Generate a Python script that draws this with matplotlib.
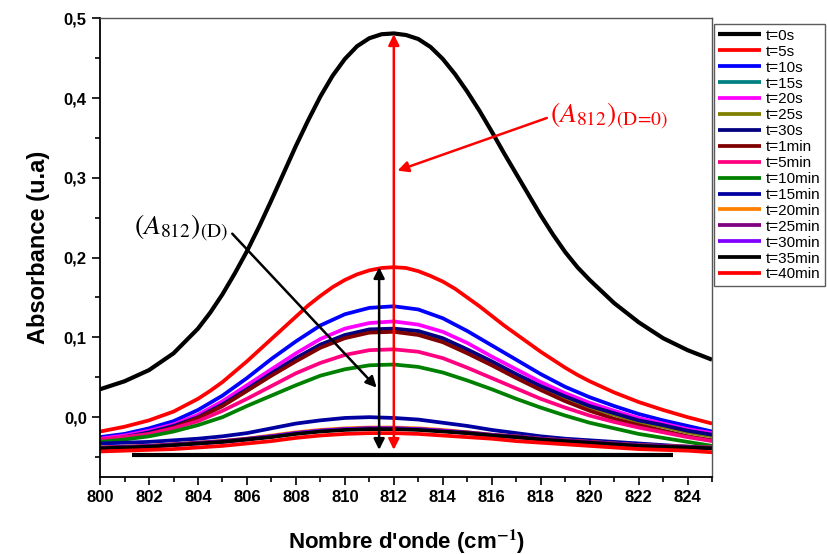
import matplotlib
matplotlib.use("Agg")
import matplotlib.pyplot as plt
from matplotlib.ticker import MultipleLocator, FuncFormatter

plt.rcParams['font.family'] = ['Liberation Sans', 'DejaVu Sans']
plt.rcParams['mathtext.fontset'] = 'stix'

# wavenumber grids (cm-1): finer sampling around the band for the two tallest spectra
wavenumber = [800, 801, 802, 803, 804, 805, 806, 807, 808, 809, 810, 811, 812,
              813, 814, 815, 816, 817, 818, 819, 820, 821, 822, 823, 824, 825]
wavenumber_fine = [800, 801, 802, 803, 804,
                   804.5, 805, 805.5, 806, 806.5, 807, 807.5, 808, 808.5, 809, 809.5, 810,
                   810.5, 811, 811.5, 812, 812.5, 813, 813.5, 814, 814.5, 815, 815.5, 816,
                   816.5, 817, 817.5, 818, 818.5, 819, 819.5,
                   820, 821, 822, 823, 824, 825]

labels = ["t=0s", "t=5s", "t=10s", "t=15s", "t=20s", "t=25s", "t=30s", "t=1min",
          "t=5min", "t=10min", "t=15min", "t=20min", "t=25min", "t=30min",
          "t=35min", "t=40min"]
colors = ["#000000", "#FF0000", "#0000FF", "#008080", "#FF00FF", "#808000",
          "#000080", "#800000", "#FF0080", "#008000", "#0000A0", "#FF8000",
          "#800080", "#8000FF", "#000000", "#FF0000"]

t_0s = [0.035, 0.045, 0.059, 0.080, 0.111,
        0.131, 0.154, 0.180, 0.208, 0.239, 0.272, 0.306, 0.340, 0.372, 0.402, 0.428, 0.449,
        0.465, 0.475, 0.480, 0.481, 0.479, 0.474, 0.464, 0.449, 0.430, 0.408, 0.384, 0.358,
        0.331, 0.305, 0.279, 0.253, 0.229, 0.207, 0.188,
        0.172, 0.143, 0.119, 0.099, 0.084, 0.072]
t_5s = [-0.018, -0.012, -0.004, 0.007, 0.023,
        0.033, 0.044, 0.057, 0.070, 0.084, 0.098, 0.112, 0.126, 0.140, 0.152, 0.163, 0.172,
        0.179, 0.184, 0.187, 0.188, 0.187, 0.183, 0.177, 0.170, 0.161, 0.150, 0.139, 0.127,
        0.115, 0.104, 0.093, 0.082, 0.072, 0.062, 0.053,
        0.045, 0.031, 0.019, 0.009, 0.000, -0.008]
t_10s = [-0.025, -0.021, -0.014, -0.005, 0.009, 0.027, 0.049, 0.073, 0.095, 0.115, 0.129, 0.137, 0.139,
         0.135, 0.124, 0.108, 0.090, 0.072, 0.054, 0.038, 0.025, 0.014, 0.004, -0.004, -0.011, -0.018]
t_15s = [-0.030, -0.026, -0.020, -0.012, -0.001, 0.015, 0.034, 0.054, 0.073, 0.090, 0.102, 0.109, 0.110,
         0.107, 0.098, 0.084, 0.069, 0.053, 0.038, 0.025, 0.013, 0.004, -0.005, -0.011, -0.018, -0.023]
t_20s = [-0.027, -0.023, -0.017, -0.009, 0.003, 0.020, 0.040, 0.060, 0.080, 0.098, 0.111, 0.118, 0.120,
         0.116, 0.107, 0.093, 0.076, 0.060, 0.044, 0.030, 0.018, 0.008, -0.001, -0.008, -0.015, -0.020]
t_25s = [-0.031, -0.027, -0.021, -0.013, -0.002, 0.014, 0.033, 0.053, 0.072, 0.089, 0.101, 0.108, 0.109,
         0.106, 0.097, 0.083, 0.068, 0.052, 0.037, 0.024, 0.012, 0.003, -0.006, -0.012, -0.019, -0.024]
t_30s = [-0.029, -0.025, -0.019, -0.011, 0.000, 0.016, 0.035, 0.055, 0.074, 0.091, 0.103, 0.110, 0.111,
         0.108, 0.099, 0.085, 0.070, 0.054, 0.039, 0.026, 0.014, 0.005, -0.004, -0.010, -0.017, -0.022]
t_1min = [-0.030, -0.026, -0.021, -0.013, -0.001, 0.014, 0.033, 0.052, 0.070, 0.087, 0.099, 0.106, 0.107,
          0.103, 0.094, 0.080, 0.065, 0.049, 0.034, 0.020, 0.008, -0.002, -0.010, -0.017, -0.024, -0.029]
t_5min = [-0.028, -0.025, -0.021, -0.014, -0.005, 0.008, 0.023, 0.039, 0.055, 0.068, 0.078, 0.084, 0.085,
          0.082, 0.074, 0.062, 0.049, 0.036, 0.023, 0.012, 0.002, -0.006, -0.013, -0.019, -0.025, -0.030]
t_10min = [-0.031, -0.028, -0.024, -0.018, -0.010, 0.000, 0.014, 0.027, 0.040, 0.052, 0.060, 0.065, 0.066,
           0.063, 0.056, 0.046, 0.035, 0.023, 0.012, 0.002, -0.007, -0.014, -0.021, -0.026, -0.031, -0.036]
t_15min = [-0.033, -0.032, -0.031, -0.029, -0.027, -0.024, -0.020, -0.014, -0.008, -0.004, -0.001, 0.000, -0.001,
           -0.003, -0.007, -0.011, -0.016, -0.020, -0.024, -0.027, -0.029, -0.031, -0.033, -0.035, -0.037, -0.039]
t_20min = [-0.038, -0.037, -0.036, -0.034, -0.032, -0.030, -0.027, -0.023, -0.019, -0.016, -0.014, -0.013, -0.013,
           -0.014, -0.016, -0.019, -0.022, -0.024, -0.027, -0.029, -0.031, -0.033, -0.035, -0.036, -0.037, -0.038]
t_25min = [-0.038, -0.037, -0.036, -0.034, -0.032, -0.030, -0.027, -0.024, -0.020, -0.017, -0.015, -0.014, -0.014,
           -0.015, -0.017, -0.019, -0.022, -0.024, -0.027, -0.029, -0.031, -0.033, -0.035, -0.036, -0.037, -0.038]
t_30min = [-0.039, -0.038, -0.037, -0.035, -0.033, -0.031, -0.028, -0.024, -0.020, -0.017, -0.015, -0.014, -0.014,
           -0.015, -0.017, -0.020, -0.023, -0.025, -0.028, -0.030, -0.032, -0.034, -0.036, -0.037, -0.038, -0.039]
t_35min = [-0.039, -0.038, -0.037, -0.035, -0.033, -0.031, -0.028, -0.025, -0.021, -0.018, -0.016, -0.015, -0.015,
           -0.016, -0.018, -0.020, -0.023, -0.025, -0.028, -0.030, -0.032, -0.034, -0.036, -0.037, -0.038, -0.039]
t_40min = [-0.043, -0.042, -0.041, -0.040, -0.038, -0.036, -0.033, -0.030, -0.026, -0.023, -0.021, -0.020, -0.020,
           -0.021, -0.023, -0.025, -0.027, -0.030, -0.032, -0.034, -0.036, -0.038, -0.040, -0.041, -0.042, -0.044]

series = [t_0s, t_5s, t_10s, t_15s, t_20s, t_25s, t_30s, t_1min, t_5min, t_10min,
          t_15min, t_20min, t_25min, t_30min, t_35min, t_40min]

# flat reference baseline drawn under the spectra
baseline_x = [801.3, 823.4]
baseline_y = [-0.048, -0.048]

# absorbance markers at the band maximum
peak_pos_D0 = 812.0
peak_pos_D = 811.4
arrow_bottom = -0.041
A812_D0 = 0.480
A812_D = 0.188

fig = plt.figure(figsize=(8.27, 5.54), dpi=100)
ax = fig.add_axes([0.121, 0.139, 0.740, 0.828])

for y, lab, col in zip(series, labels, colors):
    xs = wavenumber_fine if len(y) == len(wavenumber_fine) else wavenumber
    lw = 3.0 if lab == "t=0s" else 2.7
    ax.plot(xs, y, color=col, lw=lw, label=lab, solid_capstyle='butt', solid_joinstyle='round')

ax.plot(baseline_x, baseline_y, color='black', lw=3.0, solid_capstyle='butt')

# double arrows
ax.annotate('', xy=(peak_pos_D0, A812_D0), xytext=(peak_pos_D0, arrow_bottom),
            arrowprops=dict(arrowstyle='<|-|>', color='#FF0000', lw=1.8,
                            mutation_scale=16, shrinkA=0, shrinkB=0))
ax.annotate('', xy=(peak_pos_D, A812_D), xytext=(peak_pos_D, arrow_bottom),
            arrowprops=dict(arrowstyle='<|-|>', color='black', lw=1.8,
                            mutation_scale=16, shrinkA=0, shrinkB=0))

# labels with pointer arrows
ax.annotate('', xy=(812.15, 0.309), xytext=(818.25, 0.375),
            arrowprops=dict(arrowstyle='-|>', color='#FF0000', lw=1.8,
                            mutation_scale=16, shrinkA=0, shrinkB=0))
ax.text(818.4, 0.377, r'$(A_{812})_{\mathrm{(D\!=\!0)}}$', color='#FF0000',
        fontsize=20, ha='left', va='center')
ax.annotate('', xy=(811.3, 0.037), xytext=(805.4, 0.230),
            arrowprops=dict(arrowstyle='-|>', color='black', lw=1.8,
                            mutation_scale=16, shrinkA=0, shrinkB=0))
ax.text(801.4, 0.236, r'$(A_{812})_{\mathrm{(D)}}$', color='black',
        fontsize=20, ha='left', va='center')

ax.set_xlim(800, 825)
ax.set_ylim(-0.075, 0.5)
ax.xaxis.set_major_locator(MultipleLocator(2))
ax.xaxis.set_minor_locator(MultipleLocator(1))
ax.yaxis.set_major_locator(MultipleLocator(0.1))
ax.yaxis.set_minor_locator(MultipleLocator(0.05))
ax.yaxis.set_major_formatter(FuncFormatter(lambda v, p: f"{v:.1f}".replace('.', ',').replace('-0,0', '0,0')))
ax.tick_params(axis='both', which='major', direction='out', length=6, width=1.2,
               labelsize=12, top=False, right=False)
ax.tick_params(axis='both', which='minor', direction='out', length=3.5, width=1.2,
               top=False, right=False)
for lab in ax.get_xticklabels() + ax.get_yticklabels():
    lab.set_fontweight('bold')
for side in ['left', 'bottom']:
    ax.spines[side].set_linewidth(1.3)
for side in ['top', 'right']:
    ax.spines[side].set_linewidth(1.0)
    ax.spines[side].set_color('#555555')

ax.set_xlabel(r"Nombre d'onde (cm$^{\mathbf{-1}}$)", fontsize=16, fontweight='bold', labelpad=16)
ax.set_ylabel("Absorbance (u.a)", fontsize=17, fontweight='bold', labelpad=10)

leg = ax.legend(loc='upper left', bbox_to_anchor=(1.003, 0.987), fontsize=11,
                frameon=True, fancybox=False, edgecolor='#333333', handlelength=2.8,
                handletextpad=0.3, labelspacing=0.125, borderpad=0.3, borderaxespad=0)
leg.get_frame().set_linewidth(1.0)

fig.savefig("out.png", dpi=100)
